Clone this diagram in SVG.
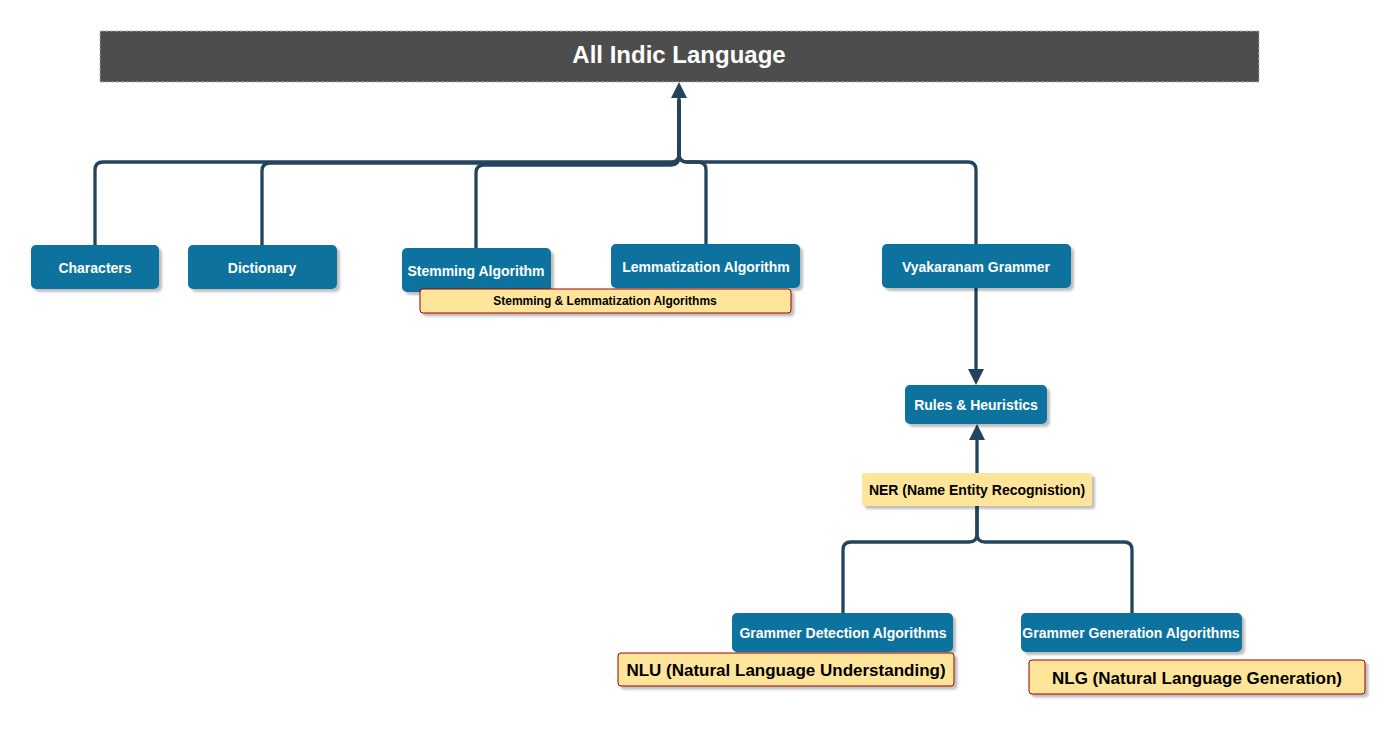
<svg xmlns="http://www.w3.org/2000/svg" width="1397" height="730" viewBox="0 0 1397 730">
<defs>
  <filter id="sh" x="-10%" y="-20%" width="130%" height="160%">
    <feDropShadow dx="3" dy="3" stdDeviation="0.8" flood-color="#000" flood-opacity="0.25"/>
  </filter>
  <marker id="arr" markerUnits="userSpaceOnUse" markerWidth="16" markerHeight="16" viewBox="0 0 16 16" refX="0" refY="8" orient="auto">
    <path d="M0,0 L16,8 L0,16 Z" fill="#23445D"/>
  </marker>
</defs>
<style>
  .node { fill: #10739E; filter: url(#sh); }
  .note { fill: #FFE599; stroke: #990000; stroke-width: 1; filter: url(#sh); }
  .note2 { fill: #FFE599; filter: url(#sh); }
  .nt { font-family: "Liberation Sans", Arial, sans-serif; font-weight: bold; font-size: 14px; fill: #FFFFFF; text-anchor: middle; dominant-baseline: central; }
  .bt { font-family: "Liberation Sans", Arial, sans-serif; font-weight: bold; fill: #000000; text-anchor: middle; dominant-baseline: central; }
  .edge { fill: none; stroke: #23445D; stroke-width: 3.3; stroke-linejoin: round; }
</style>
<rect width="1397" height="730" fill="#FFFFFF"/>

<g id="connectors">
  <path class="edge" d="M95,245 V170 Q95,162 103,162 H671 Q679,162 679,154 V98" marker-end="url(#arr)"/>
  <path class="edge" d="M262,245 V171 Q262,163 270,163 H671 Q679,163 679,155 V100"/>
  <path class="edge" d="M476,248 V173 Q476,165 484,165 H671 Q679,165 679,157 V100"/>
  <path class="edge" d="M706,244 V170 Q706,162 698,162 H687 Q679,162 679,154 V100"/>
  <path class="edge" d="M976,244 V170 Q976,162 968,162 H687 Q679,162 679,154 V100"/>
  <path class="edge" d="M976,288 V369" marker-end="url(#arr)"/>
  <path class="edge" d="M977,473 V440" marker-end="url(#arr)"/>
  <path class="edge" d="M977,506 V534 Q977,542 969,542 H851 Q843,542 843,550 V613"/>
  <path class="edge" d="M977,506 V534 Q977,542 985,542 H1124 Q1132,542 1132,550 V613"/>
</g>

<g id="title">
  <rect x="100" y="31" width="1159" height="51" fill="#4D4D4D" stroke="#B3B3B3" stroke-width="1" stroke-dasharray="3 2"/>
  <text x="679" y="54" class="bt" style="fill:#FFFFFF;font-size:24px">All Indic Language</text>
</g>

<g id="characters">
  <rect class="node" x="31" y="245" width="128" height="44" rx="5"/>
  <text class="nt" x="95" y="268">Characters</text>
</g>
<g id="dictionary">
  <rect class="node" x="188" y="245" width="149" height="44" rx="5"/>
  <text class="nt" x="262" y="268">Dictionary</text>
</g>
<g id="stemming">
  <rect class="node" x="402" y="248" width="149" height="44" rx="5"/>
  <text class="nt" x="476" y="271">Stemming Algorithm</text>
</g>
<g id="lemmatization">
  <rect class="node" x="611" y="244" width="189" height="44" rx="5"/>
  <text class="nt" x="706" y="267">Lemmatization Algorithm</text>
</g>
<g id="stem-lemm-note">
  <rect class="note" x="420" y="289" width="371" height="24" rx="3"/>
  <text class="bt" x="605" y="301" style="font-size:12px">Stemming &amp; Lemmatization Algorithms</text>
</g>
<g id="vyakaranam">
  <rect class="node" x="882" y="244" width="189" height="44" rx="5"/>
  <text class="nt" x="976" y="267">Vyakaranam Grammer</text>
</g>
<g id="rules">
  <rect class="node" x="905" y="385" width="142" height="39" rx="5"/>
  <text class="nt" x="976" y="405">Rules &amp; Heuristics</text>
</g>
<g id="ner">
  <rect class="note2" x="862" y="473" width="230" height="33" rx="3"/>
  <text class="bt" x="977" y="490" style="font-size:14px">NER (Name Entity Recognistion)</text>
</g>
<g id="grammer-detection">
  <rect class="node" x="732" y="613" width="221" height="39" rx="5"/>
  <text class="nt" x="843" y="633">Grammer Detection Algorithms</text>
</g>
<g id="grammer-generation">
  <rect class="node" x="1021" y="613" width="221" height="39" rx="5"/>
  <text class="nt" x="1131" y="633">Grammer Generation Algorithms</text>
</g>
<g id="nlu">
  <rect class="note" x="618" y="653" width="336" height="33" rx="3"/>
  <text class="bt" x="786" y="670" style="font-size:17px">NLU (Natural Language Understanding)</text>
</g>
<g id="nlg">
  <rect class="note" x="1029" y="660" width="336" height="34" rx="3"/>
  <text class="bt" x="1197" y="678" style="font-size:17px">NLG (Natural Language Generation)</text>
</g>
</svg>
